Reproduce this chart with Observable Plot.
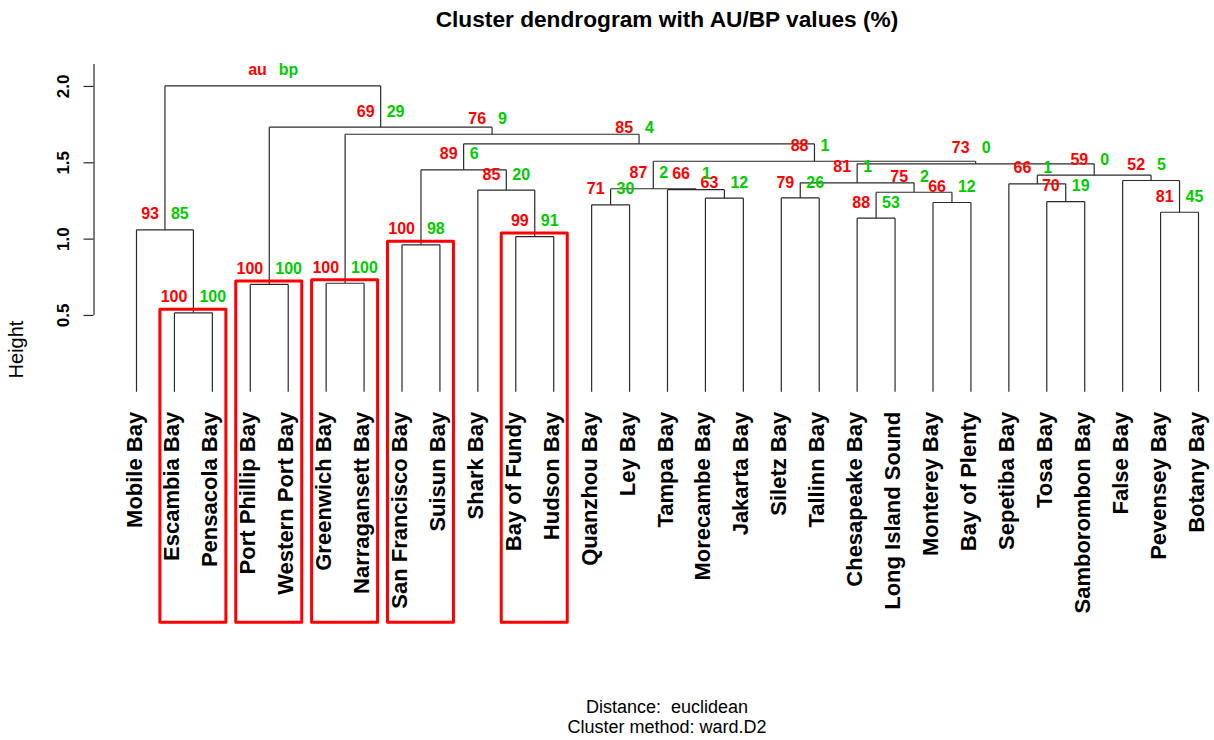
<!DOCTYPE html>
<html><head><meta charset="utf-8">
<script src="https://cdn.jsdelivr.net/npm/d3@7"></script>
<script src="https://cdn.jsdelivr.net/npm/@observablehq/plot@0.6"></script>
<style>
body{margin:0;background:#fff;font-family:"Liberation Sans",Arial,sans-serif;}
#wrap{width:1214px;height:740px;position:relative;overflow:hidden;background:#fff}
#title{height:40px;box-sizing:border-box;padding:8px 0 0 120px;line-height:22px;font-size:22.7px;font-weight:bold;text-align:center;color:#000}
#chart svg{display:block}
#caption{padding:7px 0 0 120px;font-size:18px;line-height:20px;text-align:center;color:#000}
</style></head>
<body><div id="wrap">
<div id="title">Cluster dendrogram with AU/BP values (%)</div>
<div id="chart"></div>
<div id="caption"><div>Distance:&nbsp; euclidean</div><div>Cluster method: ward.D2</div></div>
</div>
<script>
// Leaves in dendrogram display order
const leaves = ["Mobile Bay","Escambia Bay","Pensacola Bay","Port Phillip Bay","Western Port Bay",
  "Greenwich Bay","Narragansett Bay","San Francisco Bay","Suisun Bay","Shark Bay","Bay of Fundy",
  "Hudson Bay","Quanzhou Bay","Ley Bay","Tampa Bay","Morecambe Bay","Jakarta Bay","Siletz Bay",
  "Tallinn Bay","Chesapeake Bay","Long Island Sound","Monterey Bay","Bay of Plenty","Sepetiba Bay",
  "Tosa Bay","Samborombon Bay","False Bay","Pevensey Bay","Botany Bay"];
// hclust-style merges: negative = leaf (1-based position), positive = earlier merge row (1-based)
const mergeLeft  = [-2,-4,-6,-8,-11,-1,-20,-28,-13,-22,-25,-16,-18, 7,-10,-15, 9,-24,13,-27,18, 4,19,17,22, 3, 2, 6];
const mergeRight = [-3,-5,-7,-9,-12, 1,-21,-29,-14,-23,-26,-17,-19,10,  5, 12,16, 11,14,  8,20,15,21,23,24,25,26,27];
const heights = [0.517,0.703,0.711,0.963,1.017,1.061,1.137,1.176,1.225,1.240,1.246,1.268,1.270,
  1.307,1.321,1.324,1.330,1.362,1.369,1.384,1.419,1.454,1.493,1.510,1.624,1.687,1.733,2.004];
const auValues = [100,100,100,100,99,93,88,81,71,66,70,63,79,75,85,66,87,66,81,52,59,89,73,88,85,76,69,null];
const bpValues = [100,100,100,98,91,85,53,45,30,12,19,12,26,2,20,1,2,1,1,5,0,6,0,1,4,9,29,null];
const headerLabels = ["au","bp"];
const yTicks = [0.5,1.0,1.5,2.0];
const yAxisTop = 2.144;
const auThreshold = 95;

// layout constants
const nLeaves = leaves.length;
const axisX = 1 - 0.04 * (nLeaves - 1);
const pxPerLeaf = (1198 - 136) / (nLeaves - 1);
const tickLen = 10 / pxPerLeaf;
const rectPad = 0.37, rectTopPad = 0.02, rectBottom = -1.513;
const heightLabelY = 0.277;

// derived geometry
const mx = [], members = [];
const cx = c => c < 0 ? -c : mx[c - 1];
const ch = c => c < 0 ? 0 : heights[c - 1];
const cm = c => c < 0 ? [-c, -c] : members[c - 1];
const segments = [];
heights.forEach((h, i) => {
  const l = mergeLeft[i], r = mergeRight[i];
  const xl = cx(l), xr = cx(r);
  mx.push((xl + xr) / 2);
  const ml = cm(l), mr = cm(r);
  members.push([Math.min(ml[0], mr[0]), Math.max(ml[1], mr[1])]);
  segments.push({x1: xl, y1: ch(l), x2: xl, y2: h});
  segments.push({x1: xl, y1: h, x2: xr, y2: h});
  segments.push({x1: xr, y1: h, x2: xr, y2: ch(r)});
});
const nodeRows = heights.map((h, i) => ({
  x: mx[i], h,
  au: auValues[i] == null ? headerLabels[0] : String(auValues[i]),
  bp: bpValues[i] == null ? headerLabels[1] : String(bpValues[i])
}));
let sel = heights.map((h, i) => i).filter(i => auValues[i] != null && auValues[i] >= auThreshold);
sel = sel.filter(i => !sel.some(j => j !== i && members[j][0] <= members[i][0] && members[i][1] <= members[j][1]));
const boxes = sel.map(i => ({x1: members[i][0] - rectPad, x2: members[i][1] + rectPad, top: heights[i] + rectTopPad}));
const leafRows = leaves.map((name, i) => ({name, pos: i + 1}));

const lineColor = "#2a2a2a";
const chart = Plot.plot({
  width: 1214, height: 650,
  marginLeft: 0, marginRight: 0, marginTop: 0, marginBottom: 0,
  x: {domain: [1, nLeaves], range: [136, 1198], axis: null},
  y: {domain: [0, 2], range: [351.3, 45.96], axis: null},
  style: {fontFamily: "'Liberation Sans', Arial, sans-serif", background: "#fff", overflow: "visible"},
  marks: [
    Plot.link(segments, {x1: "x1", y1: "y1", x2: "x2", y2: "y2", stroke: lineColor, strokeWidth: 1.2}),
    Plot.ruleX([axisX], {x: d => d, y1: () => yTicks[0], y2: () => yAxisTop, stroke: lineColor, strokeWidth: 1.2}),
    Plot.ruleY(yTicks, {y: d => d, x1: () => axisX - tickLen, x2: () => axisX, stroke: lineColor, strokeWidth: 1.2}),
    Plot.text(yTicks, {x: () => axisX, y: d => d, text: d => d.toFixed(1), rotate: -90, dx: -30,
      fontWeight: "bold", fontSize: 17, fill: "#000"}),
    Plot.text(["Height"], {x: () => axisX, y: () => heightLabelY, text: d => d, rotate: -90, dx: -77.5,
      fontSize: 20, fill: "#000"}),
    Plot.rect(boxes, {x1: "x1", x2: "x2", y1: () => rectBottom, y2: "top", fill: "none",
      stroke: "#ff0000", strokeWidth: 3, strokeLinejoin: "round"}),
    Plot.text(leafRows, {x: "pos", y: () => 0, text: "name", rotate: -90, textAnchor: "end",
      dx: -2, dy: 20, fontWeight: "bold", fontSize: 22, fill: "#000"}),
    Plot.text(nodeRows, {x: "x", y: "h", text: "au", textAnchor: "end", dx: -6, dy: -15.5,
      fill: "#ff0000", fontWeight: "bold", fontSize: 16}),
    Plot.text(nodeRows, {x: "x", y: "h", text: "bp", textAnchor: "start", dx: 6, dy: -15.5,
      fill: "#00cc00", fontWeight: "bold", fontSize: 16})
  ]
});
document.getElementById("chart").appendChild(chart);
</script>
</body></html>
